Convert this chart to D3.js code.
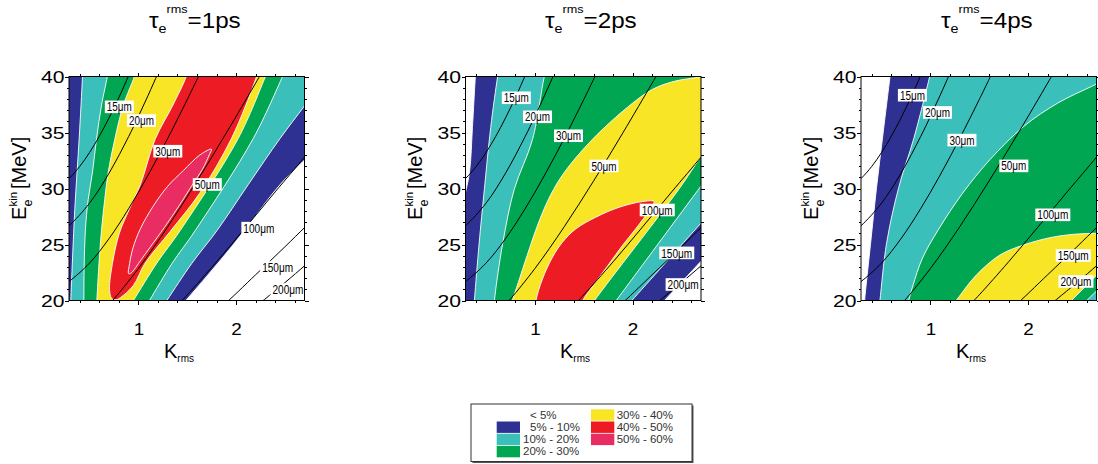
<!DOCTYPE html>
<html>
<head>
<meta charset="utf-8">
<script src="https://cdn.jsdelivr.net/npm/d3@7"></script>
<style>
  body { margin: 0; background: #fff; }
  svg { display: block; font-family: "Liberation Sans", Arial, Helvetica, sans-serif; }
</style>
</head>
<body>
<svg id="chart" width="1098" height="464"></svg>
<script>
// ---- axes / ticks ----
const tauValues = [1, 2, 4];
const kDomain = [0.29, 2.7];
const eDomain = [20, 40];
const xTicks = [1, 2];
const xMinorTicks = [0.4, 0.6, 0.8, 1.2, 1.4, 1.6, 1.8, 2.2, 2.4, 2.6];
const yTicks = [20, 25, 30, 35, 40];
const yMinorTicks = [21, 22, 23, 24, 26, 27, 28, 29, 31, 32, 33, 34, 36, 37, 38, 39];

// ---- efficiency levels (legend) ----
const levelLabels = ['< 5%', '5% - 10%', '10% - 20%', '20% - 30%', '30% - 40%', '40% - 50%', '50% - 60%'];
const levelColors = ['#ffffff', '#2e3192', '#3bbfba', '#00a651', '#f7e526', '#ed1c24', '#e92d63'];

// ---- superlevel regions, [K, E] rings ----
// tau = 1 ps
const p1Navy = [[0.1, 42], [0.1, 18], [1.28, 18], [1.486, 20], [1.969, 24.97], [2.449, 30.33], [2.702, 32.56], [3.09, 36], [3.1, 42]];
const p1Teal = [[0.435, 41.5], [0.428, 40], [0.394, 34.46], [0.349, 28.1], [0.308, 20], [0.3, 18.5],
  [1.175, 18.5], [1.291, 20], [1.548, 23.33], [1.805, 26.25], [2.123, 30.33], [2.449, 34.46], [2.705, 37.44], [3.0, 41], [3.0, 41.5]];
const p1Green = [[0.70, 41], [0.682, 40], [0.623, 37.44], [0.572, 34.46], [0.531, 31.49], [0.486, 28.99], [0.458, 26.31], [0.445, 23], [0.442, 20], [0.44, 18.5],
  [1.008, 18.5], [1.113, 20], [1.346, 23.33], [1.582, 26.25], [2.175, 34.46], [2.476, 40], [2.53, 41]];
const p1Yellow = [[0.99, 41], [0.959, 40], [0.846, 37.44], [0.760, 34.46], [0.692, 31.49], [0.655, 28.99], [0.623, 26.31], [0.597, 23.33], [0.575, 20], [0.565, 18.5],
  [0.84, 18.5], [0.949, 20], [1.188, 23.33], [1.428, 26.25], [2.021, 34.46], [2.301, 40], [2.35, 41]];
const p1Red = [[1.52, 41], [1.490, 40], [1.353, 37.44], [1.175, 34.46], [1.020, 30.33], [0.905, 28.1], [0.805, 26.0], [0.735, 23.33], [0.705, 21.0],
  [0.726, 20.2], [0.771, 20.06], [0.815, 20.25], [0.949, 21.35], [1.068, 23.33], [1.325, 26.16], [1.627, 29.58], [1.952, 34.46], [2.209, 40], [2.24, 41]];
const p1Pink = [[1.747, 33.51], [1.63, 33.0], [1.46, 31.6], [1.30, 30.2], [1.15, 28.4], [1.02, 26.4], [0.945, 24.7], [0.91, 23.3], [0.90, 22.4],
  [0.925, 22.45], [1.027, 23.63], [1.12, 24.75], [1.264, 26.5], [1.42, 28.5], [1.55, 30.3], [1.655, 31.7], [1.725, 33.0]];

// tau = 2 ps
const p2Navy = [[0.40, 41], [0.391, 40], [0.361, 35.45], [0.33, 31.41], [0.25, 28], [0.1, 18],
  [2.11, 18], [2.32, 19.94], [2.707, 23.57], [2.97, 26], [3.2, 42]];
const p2Teal = [[0.64, 41], [0.619, 40], [0.548, 35.45], [0.483, 29.93], [0.429, 25.05], [0.381, 20], [0.36, 17.6],
  [1.787, 18], [1.986, 19.94], [2.707, 26.98], [3.22, 32], [3.3, 42]];
const p2Green = [[1.126, 40.8], [1.095, 39.91], [0.976, 34.38], [0.789, 29.93], [0.670, 25.05], [0.585, 19.94], [0.565, 17.6],
  [1.6, 17.3], [1.827, 19.94], [2.707, 30.3], [2.94, 33], [3.3, 42]];
const p2Yellow = [[3.0, 40.5], [2.69, 39.97], [2.418, 39.55], [2.201, 38.84], [1.963, 37.36], [1.588, 34.38], [1.299, 31.41], [1.16, 29.4], [1.04, 27.0],
  [0.92, 24.0], [0.83, 21.6], [0.769, 20], [0.72, 18.5], [1.45, 18], [1.605, 19.94], [2.473, 29.93], [2.707, 32.93], [3.1, 37.5]];
const p2Red = [[1.0, 18.5], [1.010, 19.94], [1.078, 21.93], [1.180, 23.86], [1.282, 25.20], [1.418, 26.39], [1.622, 27.43], [1.861, 28.32], [2.099, 28.83],
  [2.218, 28.83], [2.167, 28.02], [2.031, 26.39], [1.895, 24.90], [1.759, 23.27], [1.622, 21.63], [1.486, 19.94], [1.44, 18.5]];

// tau = 4 ps
const p3Navy = [[0.60, 41], [0.587, 40], [0.517, 35], [0.448, 30], [0.387, 25], [0.326, 19.9], [0.31, 18], [3.2, 18], [3.2, 41]];
const p3Teal = [[1.02, 41], [0.993, 40], [0.83, 34.46], [0.676, 30.1], [0.552, 25.12], [0.483, 19.91], [0.46, 18], [3.2, 18], [3.2, 41]];
const p3Green = [[3.0, 40.5], [2.649, 39.11], [2.302, 37.62], [1.955, 35.54], [1.608, 32.56], [1.33, 29.58], [1.08, 26.3],
  [0.92, 23.8], [0.82, 21.3], [0.778, 20], [0.74, 18.8], [2.37, 18], [2.601, 20], [2.729, 21.1], [2.95, 23], [3.2, 23], [3.2, 40.5]];
const p3Yellow = [[3.0, 26.05], [2.722, 26.01], [2.479, 25.92], [2.236, 25.63], [1.958, 24.97], [1.715, 24.08], [1.472, 22.29], [1.264, 20], [1.13, 18.5],
  [2.273, 18.5], [2.444, 20], [2.722, 22.44], [3.0, 24.9]];

const p1Bands = [p1Navy, p1Teal, p1Green, p1Yellow, p1Red, p1Pink];
const p2Bands = [p2Navy, p2Teal, p2Green, p2Yellow, p2Red];
const p3Bands = [p3Navy, p3Teal, p3Green, p3Yellow];

// ---- constant-wavelength lines (same in every panel) ----
const lamNames = ['15\u03bcm', '20\u03bcm', '30\u03bcm', '50\u03bcm', '100\u03bcm', '150\u03bcm', '200\u03bcm'];
const lam15 = [[0.2, 30.25], [0.29, 30.89], [0.4, 31.97], [0.5, 33.21], [0.6, 34.66], [0.7, 36.31], [0.8, 38.11], [0.9, 40.07], [0.95, 41.1]];
const lam20 = [[0.2, 26.13], [0.29, 26.68], [0.5, 28.69], [0.7, 31.37], [0.9, 34.63], [1.0, 36.43], [1.1, 38.32], [1.2, 40.29], [1.25, 41.3]];
const lam30 = [[0.2, 21.24], [0.29, 21.70], [0.5, 23.34], [0.7, 25.53], [0.9, 28.19], [1.1, 31.2], [1.3, 34.47], [1.5, 37.94], [1.65, 40.64]];
const lam50 = [[0.65, 19.2], [0.75, 20.14], [1.0, 22.85], [1.3, 26.58], [1.6, 30.66], [1.9, 34.96], [2.2, 39.41], [2.3, 40.92]];
const lam100 = [[1.4, 19.59], [1.5, 20.5], [1.8, 23.45], [2.1, 26.55], [2.4, 29.7], [2.7, 32.8], [2.8, 33.9]];
const lam150 = [[1.8, 19.2], [1.87, 19.6], [2.2, 22.3], [2.5, 24.8], [2.7, 26.5], [2.8, 27.3]];
const lam200 = [[2.2, 19.45], [2.5, 21.6], [2.7, 23.1], [2.8, 23.9]];
const lamLines = [lam15, lam20, lam30, lam50, lam100, lam150, lam200];

// label centres [K, E] per panel
const p1LabelPos = [[0.805, 37.29], [1.031, 36.07], [1.301, 33.33], [1.705, 30.36], [2.233, 26.46], [2.425, 22.95], [2.531, 20.98]];
const p2LabelPos = [[0.81, 38.10], [1.027, 36.40], [1.344, 34.71], [1.707, 32.01], [2.252, 28.08], [2.452, 24.25], [2.517, 21.43]];
const p3LabelPos = [[0.816, 38.33], [1.073, 36.79], [1.323, 34.32], [1.854, 32.02], [2.253, 27.65], [2.462, 24.02], [2.49, 21.70]];

// ---- layout ----
const svg = d3.select('#chart');
const panelLeft = [69, 465.5, 861];
const panelTop = 76.5, W = 235.5, H = 224;

const x = d3.scaleLinear().domain(kDomain).range([0, W]);
const y = d3.scaleLinear().domain(eDomain).range([H, 0]);

const ringPath = d3.line().x(d => x(d[0])).y(d => y(d[1])).curve(d3.curveCatmullRomClosed.alpha(0.5));
const linePath = d3.line().x(d => x(d[0])).y(d => y(d[1])).curve(d3.curveCatmullRom.alpha(0.5));

const panels = [
  { tau: tauValues[0], bands: p1Bands, labels: p1LabelPos },
  { tau: tauValues[1], bands: p2Bands, labels: p2LabelPos },
  { tau: tauValues[2], bands: p3Bands, labels: p3LabelPos },
];

function styleAxis(sel) {
  sel.attr('font-size', null).attr('font-family', null);
  sel.select('.domain').remove();
  sel.selectAll('line').attr('stroke', '#000').attr('shape-rendering', 'crispEdges');
}

panels.forEach((p, i) => {
  const left = panelLeft[i];
  const g = svg.append('g').attr('transform', `translate(${left},${panelTop})`);

  g.append('clipPath').attr('id', `clip${i}`)
    .append('rect').attr('width', W).attr('height', H);

  const plot = g.append('g').attr('clip-path', `url(#clip${i})`);
  plot.append('rect').attr('width', W).attr('height', H).attr('fill', '#fff');

  // filled bands, lowest level first
  plot.selectAll('path.band')
    .data(p.bands)
    .join('path')
    .attr('class', 'band')
    .attr('d', d => ringPath(d))
    .attr('fill', (d, j) => levelColors[j + 1])
    .attr('stroke', '#fff')
    .attr('stroke-width', 0.9);

  // wavelength lines
  plot.selectAll('path.lam')
    .data(lamLines)
    .join('path')
    .attr('class', 'lam')
    .attr('d', d => linePath(d))
    .attr('fill', 'none')
    .attr('stroke', '#000')
    .attr('stroke-width', 1);

  // line labels
  const lab = g.append('g').selectAll('g')
    .data(lamNames.map((n, j) => ({ n, pos: p.labels[j] })))
    .join('g')
    .attr('transform', d => `translate(${x(d.pos[0])},${y(d.pos[1])})`);
  const boxW = d => d.n.length > 4 ? 35 : 29;
  lab.append('rect')
    .attr('x', d => -boxW(d) / 2)
    .attr('y', -6.3)
    .attr('width', boxW)
    .attr('height', 12.6)
    .attr('fill', '#fff');
  lab.append('text')
    .attr('text-anchor', 'middle')
    .attr('y', 4.6)
    .attr('font-size', 12.5)
    .attr('textLength', d => d.n.length > 4 ? 31 : 25)
    .attr('lengthAdjust', 'spacingAndGlyphs')
    .attr('fill', '#000')
    .text(d => d.n);

  // frame
  g.append('rect').attr('width', W).attr('height', H)
    .attr('fill', 'none').attr('stroke', '#000').attr('stroke-width', 1);

  // axes (ticks outward on all four sides)
  g.append('g').attr('transform', `translate(0,${H})`)
    .call(d3.axisBottom(x).tickValues(xMinorTicks).tickSize(2.5).tickFormat(''))
    .call(styleAxis);
  const xb = g.append('g').attr('transform', `translate(0,${H})`)
    .call(d3.axisBottom(x).tickValues(xTicks).tickSize(4).tickFormat(d3.format('d')))
    .call(styleAxis);
  xb.selectAll('text')
    .attr('y', 34).attr('dy', 0)
    .attr('font-size', 17)
    .attr('textLength', 10.5).attr('lengthAdjust', 'spacingAndGlyphs')
    .attr('fill', '#000');

  g.append('g')
    .call(d3.axisTop(x).tickValues(xMinorTicks).tickSize(2.5).tickFormat(''))
    .call(styleAxis);
  g.append('g')
    .call(d3.axisTop(x).tickValues(xTicks).tickSize(4).tickFormat(''))
    .call(styleAxis);

  g.append('g')
    .call(d3.axisLeft(y).tickValues(yMinorTicks).tickSize(2.5).tickFormat(''))
    .call(styleAxis);
  const yl = g.append('g')
    .call(d3.axisLeft(y).tickValues(yTicks).tickSize(4).tickFormat(d3.format('d')))
    .call(styleAxis);
  yl.selectAll('text')
    .attr('x', -4.5).attr('dy', '0.36em')
    .attr('font-size', 17)
    .attr('textLength', 23.5).attr('lengthAdjust', 'spacingAndGlyphs')
    .attr('fill', '#000');

  g.append('g').attr('transform', `translate(${W},0)`)
    .call(d3.axisRight(y).tickValues(yMinorTicks).tickSize(2.5).tickFormat(''))
    .call(styleAxis);
  g.append('g').attr('transform', `translate(${W},0)`)
    .call(d3.axisRight(y).tickValues(yTicks).tickSize(4).tickFormat(''))
    .call(styleAxis);

  // title  tau_e^rms = N ps
  const off = 396 * i;
  const t = svg.append('text')
    .attr('transform', `translate(${149 + off},0) scale(1.1,1)`)
    .attr('y', 28.3)
    .attr('font-size', 22)
    .attr('fill', '#000');
  t.append('tspan').text('\u03c4');
  t.append('tspan').attr('font-size', 13).attr('dy', 5).text('e');
  t.append('tspan').attr('font-size', 11.5).attr('dy', -20).text('rms');
  t.append('tspan').attr('font-size', 22).attr('dy', 15).text(`=${p.tau}ps`);

  // x axis title  K_rms
  const kx = svg.append('text')
    .attr('x', 164 + off).attr('y', 358)
    .attr('font-size', 20).attr('fill', '#000');
  kx.append('tspan').text('K');
  kx.append('tspan').attr('font-size', 10).attr('dy', 4).text('rms');

  // y axis title  E_e^kin [MeV]
  const ya = svg.append('g').attr('transform', `translate(${26 + off},220) rotate(-90)`)
    .attr('fill', '#000');
  ya.append('text').attr('x', 0).attr('y', 0).attr('font-size', 20).text('E');
  ya.append('text').attr('x', 13.5).attr('y', 6).attr('font-size', 12.5).text('e');
  ya.append('text').attr('x', 13.5).attr('y', -9).attr('font-size', 11.5).text('kin');
  ya.append('text').attr('x', 31).attr('y', 0).attr('font-size', 20).text('[MeV]');
});

// ---- legend ----
const legend = svg.append('g');
legend.append('rect').attr('x', 472.5).attr('y', 405.5).attr('width', 221).attr('height', 57.5).attr('fill', '#555');
legend.append('rect').attr('x', 471).attr('y', 404).attr('width', 221).attr('height', 57.5)
  .attr('fill', '#fff').attr('stroke', '#333').attr('stroke-width', 1);

const legendSwatchX = [496.7, 591];
const legendTextX = [530, 530, 523, 523, 616.7, 616.7, 616.7];
const items = legend.selectAll('g.item')
  .data(levelLabels.map((label, i) => ({ label, i, col: i < 4 ? 0 : 1, row: i < 4 ? i : i - 4 })))
  .join('g').attr('class', 'item');
items.append('rect')
  .attr('x', d => legendSwatchX[d.col])
  .attr('y', d => 409.3 + d.row * 12.2)
  .attr('width', 23.3)
  .attr('height', 11.4)
  .attr('fill', d => levelColors[d.i]);
items.append('text')
  .attr('x', d => legendTextX[d.i])
  .attr('y', d => 409.3 + d.row * 12.2 + 9.2)
  .attr('font-size', 11.5)
  .attr('fill', '#333')
  .text(d => d.label);
</script>
</body>
</html>
